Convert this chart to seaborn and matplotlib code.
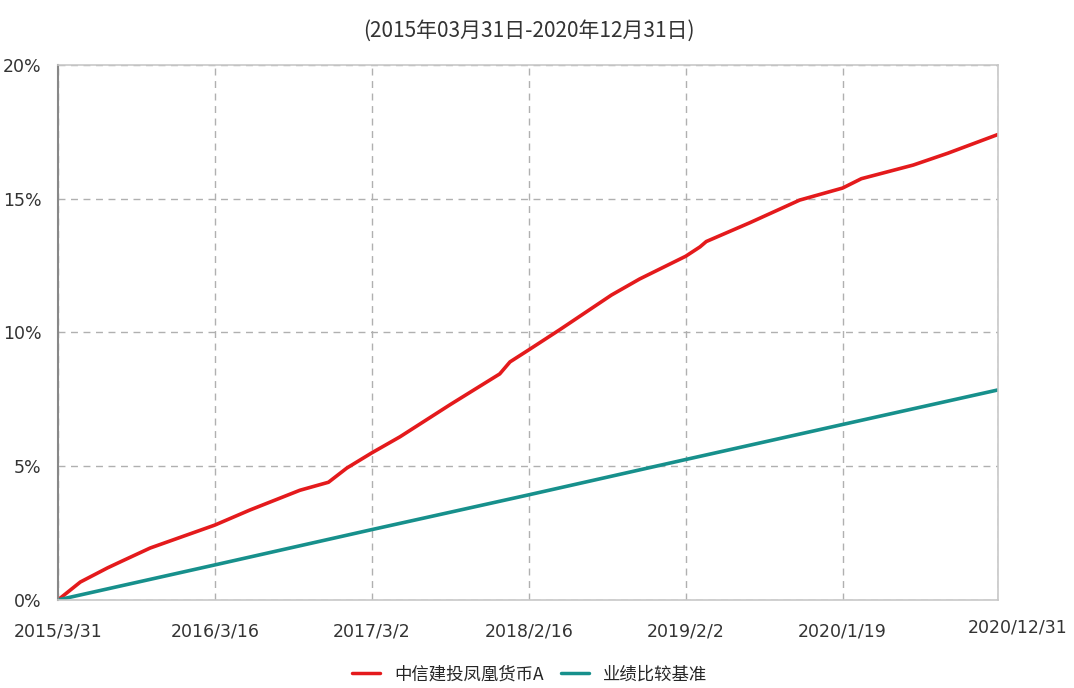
import numpy as np
import matplotlib
matplotlib.use('Agg')
import matplotlib.pyplot as plt
import matplotlib.transforms as mtransforms
import pandas as pd
import seaborn as sns

fund_name = '中信建投凤凰货币A'
bench_name = '业绩比较基准'

fund_dates = ['2015-03-31', '2015-05-20', '2015-07-20', '2015-08-17', '2015-10-23', '2016-03-16',
              '2016-06-02', '2016-09-22', '2016-11-25', '2017-01-05', '2017-03-02', '2017-05-04',
              '2017-08-24', '2017-12-13', '2018-01-05', '2018-02-16', '2018-04-26', '2018-08-20',
              '2018-10-22', '2019-02-02', '2019-03-06', '2019-03-20', '2019-06-25', '2019-10-15',
              '2020-01-19', '2020-03-01', '2020-06-25', '2020-09-10', '2020-12-31']
fund_values = [0.0, 0.67, 1.2, 1.42, 1.94, 2.8,
               3.36, 4.1, 4.4, 4.93, 5.5, 6.1,
               7.3, 8.45, 8.9, 9.35, 10.1, 11.4,
               12.0, 12.85, 13.2, 13.4, 14.1, 14.95,
               15.4, 15.75, 16.26, 16.7, 17.4]

bench_dates = ['2015-03-31', '2016-03-16', '2017-03-02', '2018-02-16', '2019-02-02', '2020-01-19', '2020-12-31']
bench_values = [0.0, 1.31, 2.63, 3.93, 5.25, 6.56, 7.85]

tick_dates = ['2015-03-31', '2016-03-16', '2017-03-02', '2018-02-16', '2019-02-02', '2020-01-19', '2020-12-31']
tick_labels = ['2015/3/31', '2016/3/16', '2017/3/2', '2018/2/16', '2019/2/2', '2020/1/19', '2020/12/31']
y_ticks = [0, 5, 10, 15, 20]
title = '(2015年03月31日-2020年12月31日)'

df = pd.concat([
    pd.DataFrame({'date': pd.to_datetime(fund_dates), 'value': fund_values, 'series': fund_name}),
    pd.DataFrame({'date': pd.to_datetime(bench_dates), 'value': bench_values, 'series': bench_name}),
])

sns.set_style('white')
plt.rcParams['font.family'] = ['Noto Sans CJK SC', 'DejaVu Sans']

fig = plt.figure(figsize=(10.74, 6.88), dpi=100)
ax = fig.add_axes([0.054, 0.128, 0.875, 0.7775])
sns.lineplot(data=df, x='date', y='value', hue='series', ax=ax,
             palette={fund_name: '#e41a1c', bench_name: '#17908c'}, linewidth=2.6, legend=False)

ax.set_xlim(pd.Timestamp(tick_dates[0]), pd.Timestamp(tick_dates[-1]))
ax.set_ylim(0, 20)
ax.set_xticks(pd.to_datetime(tick_dates))
ax.set_xticklabels(tick_labels, fontsize=12.5, color='#333333', family=['DejaVu Sans'])
ax.set_yticks(y_ticks)
ax.set_yticklabels(['%d%%' % v for v in y_ticks], fontsize=12.5, color='#333333', family=['DejaVu Sans'])
ax.tick_params(axis='x', length=8, width=1, color='#444444', pad=8, direction='out')
ax.tick_params(axis='y', length=0, pad=12)
last = ax.get_xticklabels()[-1]
last.set_transform(last.get_transform() + mtransforms.ScaledTranslation(0.2, 0.04, fig.dpi_scale_trans))

ax.grid(True, linestyle=(0, (5, 4)), color='#b0b0b0', linewidth=1)
for side in ['top', 'right', 'bottom']:
    ax.spines[side].set_color('#c8c8c8')
    ax.spines[side].set_linewidth(1.2)
ax.spines['left'].set_color('#888888')
ax.spines['left'].set_linewidth(1.5)
ax.set_xlabel('')
ax.set_ylabel('')

fig.text(0.492, 0.955, title, ha='center', va='center', fontsize=15, color='#333333')

handles = [plt.Line2D([], [], color='#e41a1c', linewidth=2.5),
           plt.Line2D([], [], color='#17908c', linewidth=2.5)]
fig.legend(handles, [fund_name, bench_name], loc='center', bbox_to_anchor=(0.493, 0.02),
           ncol=2, frameon=False, fontsize=12.5, handlelength=1.6, columnspacing=1.0,
           borderpad=0.1)

fig.savefig('out.png', dpi=100)
